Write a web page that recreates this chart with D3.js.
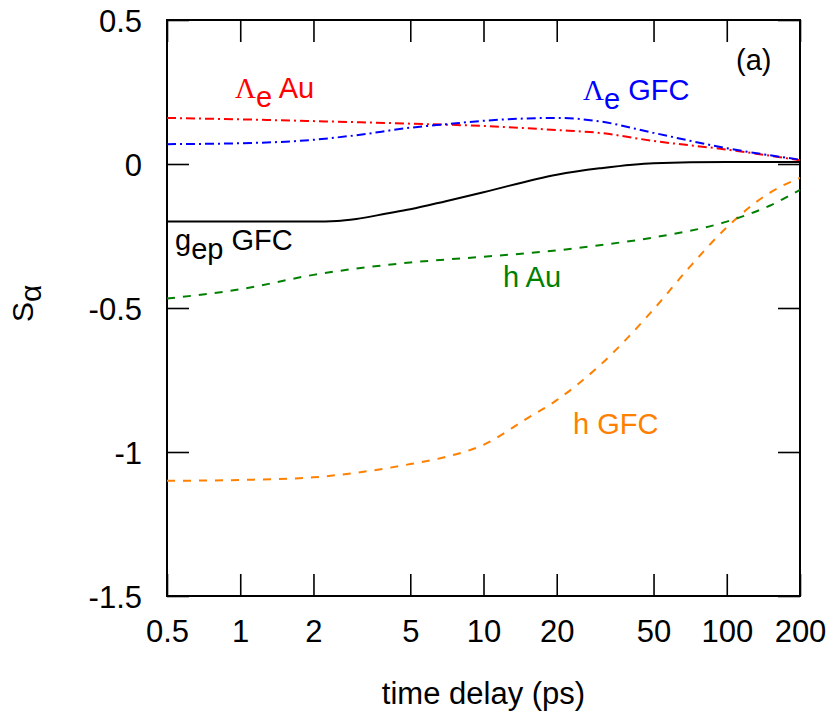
<!DOCTYPE html>
<html>
<head>
<meta charset="utf-8">
<script src="https://cdn.jsdelivr.net/npm/d3@7"></script>
<style>
  body { margin: 0; background: #fff; }
  text { font-family: "Liberation Sans", Arial, sans-serif; }
</style>
</head>
<body>
<div id="canvas"></div>
<script>
// time delay (ps) and S_alpha values
var tGep = [0.5, 1, 2, 2.5, 3, 4, 5, 7, 10, 20, 30, 50, 100, 200];
var gepGFC = [-0.200, -0.200, -0.200, -0.198, -0.191, -0.172, -0.157, -0.129, -0.098, -0.037, -0.015, 0.003, 0.007, 0.007];

var tLamAu = [0.5, 1, 2, 5, 10, 20, 30, 50, 100, 200];
var lamAu = [0.160, 0.155, 0.149, 0.140, 0.132, 0.118, 0.108, 0.080, 0.050, 0.013];

var tLamGFC = [0.5, 1, 2, 3, 5, 7, 10, 15, 20, 30, 50, 100, 200];
var lamGFC = [0.069, 0.072, 0.084, 0.100, 0.126, 0.138, 0.150, 0.158, 0.160, 0.148, 0.108, 0.055, 0.015];

var tHAu = [0.5, 1, 2, 5, 10, 20, 30, 50, 100, 150, 200];
var hAu = [-0.467, -0.435, -0.385, -0.342, -0.322, -0.300, -0.282, -0.255, -0.200, -0.145, -0.090];

var tHGFC = [0.5, 1, 2, 3, 5, 7, 10, 15, 20, 30, 50, 70, 100, 150, 200];
var hGFC = [-1.100, -1.097, -1.088, -1.072, -1.042, -1.017, -0.975, -0.885, -0.820, -0.700, -0.505, -0.360, -0.220, -0.100, -0.048];

var xTicks = [0.5, 1, 2, 5, 10, 20, 50, 100, 200];
var yTicks = [-1.5, -1, -0.5, 0, 0.5];

var pLeft = 167, pRight = 800, pTop = 20, pBottom = 596;
var tickLen = 22;

var svg = d3.select('#canvas').append('svg')
    .attr('width', 831)
    .attr('height', 717);

var x = d3.scaleLog().domain([0.5, 200]).range([pLeft, pRight]);
var y = d3.scaleLinear().domain([-1.5, 0.5]).range([pBottom, pTop]);

// plain hyphen minus, like the original
var fmt = function(d) { return String(d); };

// ticks, inward on all four sides
var xAxisB = d3.axisBottom(x).tickValues(xTicks).tickSizeInner(-tickLen).tickSizeOuter(0)
    .tickPadding(24).tickFormat(fmt);
var xAxisT = d3.axisTop(x).tickValues(xTicks).tickSizeInner(-tickLen).tickSizeOuter(0).tickFormat('');
var yAxisL = d3.axisLeft(y).tickValues(yTicks).tickSizeInner(-tickLen).tickSizeOuter(0)
    .tickPadding(25).tickFormat(fmt);
var yAxisR = d3.axisRight(y).tickValues(yTicks).tickSizeInner(-tickLen).tickSizeOuter(0).tickFormat('');

function styleAxis(g) {
    g.select('.domain').remove();
    g.selectAll('.tick line').attr('stroke', '#000').attr('stroke-width', 1.6);
    g.selectAll('.tick text').attr('fill', '#000').attr('font-size', 31)
        .attr('font-family', '"Liberation Sans", Arial, sans-serif');
}

svg.append('g').attr('transform', 'translate(0,' + pBottom + ')').call(xAxisB).call(styleAxis)
    .selectAll('.tick text').attr('dy', '0.71em');
svg.append('g').attr('transform', 'translate(0,' + pTop + ')').call(xAxisT).call(styleAxis);
svg.append('g').attr('transform', 'translate(' + pLeft + ',0)').call(yAxisL).call(styleAxis)
    .selectAll('.tick text').attr('dy', '0.36em');
svg.append('g').attr('transform', 'translate(' + pRight + ',0)').call(yAxisR).call(styleAxis);

// frame
svg.append('rect')
    .attr('x', pLeft).attr('y', pTop)
    .attr('width', pRight - pLeft).attr('height', pBottom - pTop)
    .attr('fill', 'none').attr('stroke', '#000').attr('stroke-width', 2);

// curves
var line = d3.line()
    .x(function(d) { return x(d[0]); })
    .y(function(d) { return y(d[1]); })
    .curve(d3.curveMonotoneX);

var series = [
    {t: tHGFC, v: hGFC, color: '#ff8000', dash: '8,8'},
    {t: tHAu, v: hAu, color: '#008000', dash: '8,8'},
    {t: tLamAu, v: lamAu, color: '#ff0000', dash: '9,4,2,4'},
    {t: tLamGFC, v: lamGFC, color: '#0000ff', dash: '9,4,2,4'},
    {t: tGep, v: gepGFC, color: '#000000', dash: null}
];

var plot = svg.append('g');
plot.selectAll('path.curve')
    .data(series)
    .enter()
    .append('path')
    .attr('class', 'curve')
    .attr('d', function(s) { return line(s.t.map(function(t, i) { return [t, s.v[i]]; })); })
    .attr('fill', 'none')
    .attr('stroke', function(s) { return s.color; })
    .attr('stroke-width', 2)
    .attr('stroke-dasharray', function(s) { return s.dash; });

// curve labels
function label(xp, yp, color, parts) {
    var t = svg.append('text').attr('x', xp).attr('y', yp).attr('fill', color).attr('font-size', 29);
    parts.forEach(function(p) {
        var s = t.append('tspan').text(p.text);
        if (p.serif) s.attr('font-family', '"Liberation Serif", serif');
        if (p.dy) s.attr('dy', p.dy);
    });
}

label(235, 98, '#ff0000', [{text: 'Λ', serif: true}, {text: 'e', dy: 9}, {text: ' Au', dy: -9}]);
label(583, 100, '#0000ff', [{text: 'Λ', serif: true}, {text: 'e', dy: 9}, {text: ' GFC', dy: -9}]);
label(175, 250, '#000000', [{text: 'g'}, {text: 'ep', dy: 9}, {text: ' GFC', dy: -9}]);
label(503, 287, '#008000', [{text: 'h Au'}]);
label(573, 434, '#ff8000', [{text: 'h GFC'}]);
label(736, 70, '#000000', [{text: '(a)'}]);

// axis titles
svg.append('text')
    .attr('x', (pLeft + pRight) / 2).attr('y', 704)
    .attr('text-anchor', 'middle').attr('font-size', 31)
    .text('time delay (ps)');

var yt = svg.append('text')
    .attr('transform', 'translate(33,322) rotate(-90)')
    .attr('font-size', 30);
yt.append('tspan').text('S');
yt.append('tspan').text('α').attr('dy', 8);
</script>
</body>
</html>
